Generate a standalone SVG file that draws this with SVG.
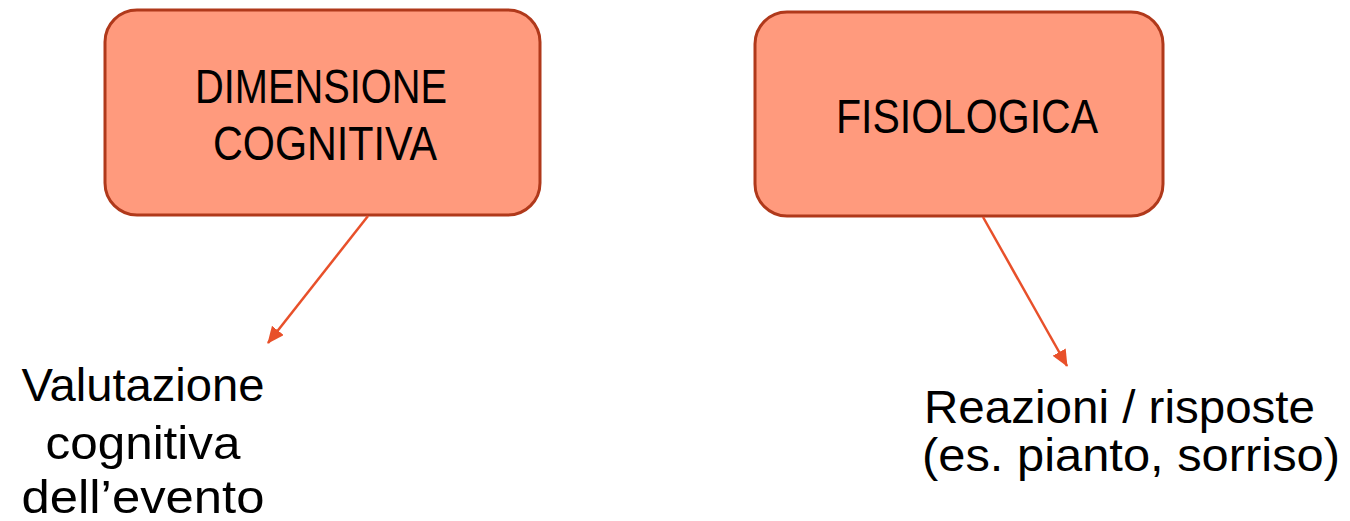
<svg xmlns="http://www.w3.org/2000/svg" width="1350" height="521" viewBox="0 0 1350 521">
<style>
.box{fill:#FF9A7D;stroke:#B0391B;stroke-width:3}
.t{font-family:"Liberation Sans",Arial,sans-serif;fill:#000}
.conn{stroke:#E8502A;stroke-width:2.5;fill:none}
</style>
<defs>
<marker id="arr" markerUnits="userSpaceOnUse" markerWidth="20" markerHeight="20" refX="16" refY="7.5" orient="auto">
<path d="M0,0 L17,7.5 L0,15 Z" fill="#E8502A"/>
</marker>
</defs>
<rect width="1350" height="521" fill="#fff"/>
<g id="node-cognitiva">
<rect class="box" x="105" y="10" width="435" height="205" rx="32"/>
<text class="t" font-size="48" text-anchor="middle" x="321" y="103" textLength="252" lengthAdjust="spacingAndGlyphs">DIMENSIONE</text>
<text class="t" font-size="48" text-anchor="middle" x="325" y="160" textLength="224" lengthAdjust="spacingAndGlyphs">COGNITIVA</text>
</g>
<g id="node-fisiologica">
<rect class="box" x="755" y="12" width="408" height="204" rx="32"/>
<text class="t" font-size="48" text-anchor="middle" x="967" y="133" textLength="262" lengthAdjust="spacingAndGlyphs">FISIOLOGICA</text>
</g>
<g id="node-valutazione">
<text class="t" font-size="47" text-anchor="middle" x="143" y="401" textLength="243" lengthAdjust="spacingAndGlyphs">Valutazione</text>
<text class="t" font-size="47" text-anchor="middle" x="143" y="459" textLength="195" lengthAdjust="spacingAndGlyphs">cognitiva</text>
<text class="t" font-size="47" text-anchor="middle" x="143" y="513" textLength="243" lengthAdjust="spacingAndGlyphs">dell’evento</text>
</g>
<g id="node-reazioni">
<text class="t" font-size="46" x="924" y="423" textLength="391" lengthAdjust="spacingAndGlyphs">Reazioni / risposte</text>
<text class="t" font-size="46" x="922" y="471" textLength="418" lengthAdjust="spacingAndGlyphs">(es. pianto, sorriso)</text>
</g>
<g id="connectors">
<line class="conn" x1="368" y1="216" x2="268" y2="343" marker-end="url(#arr)"/>
<line class="conn" x1="983" y1="217" x2="1067" y2="366" marker-end="url(#arr)"/>
</g>
</svg>
